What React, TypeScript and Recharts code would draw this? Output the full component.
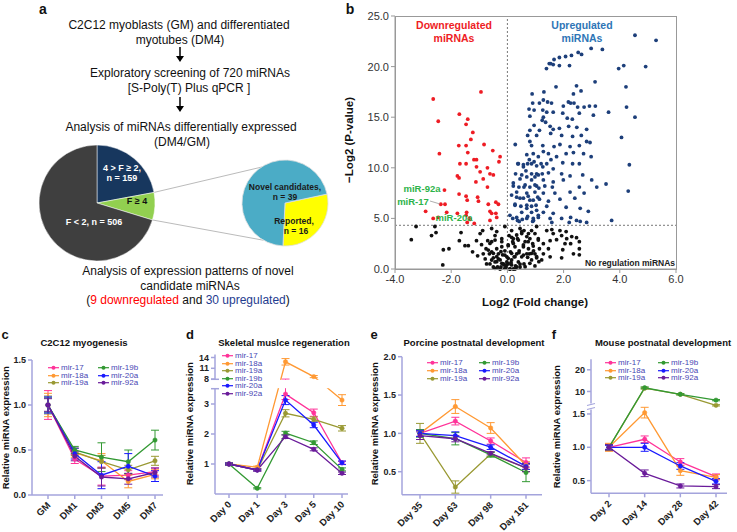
import React from "react";
import {
  PieChart, Pie, Cell, ScatterChart, Scatter, XAxis, YAxis, ReferenceLine,
  LineChart, Line, ErrorBar,
} from "recharts";

const FONT = '"Liberation Sans", Arial, Helvetica, sans-serif';
const AXIS = "#a4a4dc";

// ---- panel a: fold-change classes of the 720 screened miRNAs
const fClassNames = ["4 > F ≥ 2", "F ≥ 4", "F < 2"];
const fClassCounts = [159, 55, 506];
const fClassColors = ["#17375e", "#92d050", "#3f3f3f"];
const splitNames = ["Reported", "Novel candidates"];
const splitCounts = [16, 39];
const splitColors = ["#ffff00", "#4bacc6"];

// ---- panel b: volcano plot [log2 fold change, -log2 p]
const downPts: [number, number][] = [
  [-0.94, 17.5], [-2.64, 16.8], [-2.46, 14.6], [-1.71, 15.3], [-1.41, 14.8], [-1.47, 14.3], [-1.23, 13.5],
  [-1.30, 12.8], [-2.42, 11.4], [-1.73, 12.2], [-1.47, 12.2], [-1.41, 11.5], [-0.83, 12.3], [-0.52, 11.7],
  [-0.26, 11.1], [-0.30, 10.6], [-1.19, 10.8], [-1.10, 10.8], [-1.47, 10.4], [-1.69, 10.4], [-1.10, 10.1],
  [-0.71, 10.0], [-0.97, 9.6], [-0.62, 9.4], [-0.50, 9.3], [-1.78, 9.2], [-1.72, 9.0], [-1.12, 8.6],
  [-0.71, 8.1], [-0.86, 8.9], [-2.24, 7.8], [-1.72, 7.4], [-1.47, 7.2], [-1.06, 7.1], [-1.43, 6.8],
  [-1.03, 6.7], [-0.41, 6.6], [-0.32, 6.4], [-0.68, 6.4], [-2.37, 6.4], [-2.22, 6.4], [-2.91, 5.7],
  [-2.16, 5.6], [-1.78, 5.5], [-1.45, 5.6], [-1.47, 5.3], [-0.62, 5.7], [-0.56, 5.5], [-0.41, 5.5],
  [-2.64, 5.0], [-2.46, 5.1], [-1.35, 5.0], [-0.62, 4.8], [-1.43, 4.6], [-1.18, 4.5], [-0.38, 5.1], [-1.33, 4.9],
];
const upPts: [number, number][] = [
  [4.54, 23.1], [5.29, 22.6], [2.98, 21.8], [3.38, 21.7], [2.52, 21.4], [2.64, 21.2], [2.28, 21.1],
  [2.07, 21.0], [1.85, 20.9], [1.66, 20.7], [1.49, 20.3], [1.54, 20.3], [1.63, 20.2], [1.39, 19.8],
  [1.85, 20.1], [2.21, 20.1], [3.96, 19.8], [4.14, 20.1], [4.92, 20.0], [3.12, 18.5], [4.22, 18.0],
  [1.73, 18.0], [2.46, 18.1], [2.62, 17.6], [1.30, 17.5], [0.88, 17.3], [2.35, 17.3], [1.28, 16.7],
  [0.90, 16.4], [1.14, 16.4], [1.43, 16.5], [1.57, 16.4], [2.17, 16.5], [2.25, 16.4], [2.37, 16.4],
  [2.92, 16.1], [3.13, 16.1], [2.73, 16.0], [1.99, 16.1], [2.50, 16.0], [0.77, 15.8], [0.95, 15.7],
  [1.26, 15.7], [1.40, 15.5], [1.63, 15.5], [1.97, 15.4], [2.56, 15.4], [0.80, 15.1], [1.28, 15.0],
  [3.06, 15.2], [3.60, 15.5], [4.24, 16.0], [4.54, 15.0], [2.13, 14.9], [2.31, 14.8], [1.24, 14.7],
  [1.36, 14.5], [0.95, 14.2], [1.52, 14.1], [0.80, 13.7], [1.14, 13.7], [1.63, 13.8], [1.85, 13.9],
  [2.18, 14.1], [2.47, 14.0], [2.82, 13.8], [0.72, 13.2], [1.04, 13.2], [1.54, 13.4], [1.93, 13.2],
  [2.32, 13.1], [2.63, 13.2], [4.06, 13.0], [0.28, 12.3], [0.86, 12.2], [1.26, 12.2], [1.66, 12.1],
  [1.87, 12.3], [2.23, 12.1], [2.56, 12.2], [2.82, 12.6], [2.94, 12.5], [1.28, 11.6], [1.46, 11.4],
  [0.69, 11.3], [1.10, 11.1], [2.09, 11.4], [2.35, 11.5], [2.71, 11.4], [2.98, 11.1], [1.75, 11.1],
  [1.55, 10.8], [0.95, 10.6], [0.78, 10.8], [1.20, 10.4], [1.40, 10.4], [1.97, 10.5], [2.32, 10.4],
  [2.56, 10.4], [0.37, 10.4], [0.57, 10.1], [0.66, 9.7], [1.26, 10.1], [1.63, 9.9], [4.34, 10.3],
  [1.04, 9.4], [1.24, 9.4], [1.46, 9.5], [1.93, 9.4], [2.23, 9.2], [2.68, 9.3], [0.45, 8.9],
  [0.86, 8.8], [1.28, 8.8], [1.63, 8.6], [1.99, 8.8], [3.00, 8.8], [3.51, 8.4], [0.21, 8.2],
  [0.59, 8.1], [1.04, 8.2], [1.33, 8.2], [1.60, 8.1], [2.56, 8.1], [3.18, 8.1], [0.33, 7.6],
  [0.69, 7.5], [0.98, 7.6], [1.28, 7.5], [1.69, 7.5], [2.23, 7.6], [2.73, 7.5], [4.30, 7.7],
  [0.45, 7.0], [0.80, 6.8], [1.14, 6.9], [1.46, 6.7], [1.87, 6.9], [2.40, 7.0], [0.27, 6.4],
  [0.69, 6.3], [1.02, 6.3], [1.40, 6.2], [2.09, 6.1], [2.59, 6.0], [0.51, 5.6], [0.86, 5.6],
  [1.28, 5.6], [1.63, 5.5], [2.88, 5.7], [0.19, 5.0], [0.36, 4.8], [0.69, 5.0], [0.93, 4.8],
  [1.10, 5.1], [1.52, 5.0], [1.93, 5.0], [2.25, 5.1], [2.46, 4.8], [3.71, 4.8], [0.42, 4.7],
  [0.90, 4.7], [1.58, 4.6], [2.20, 4.6], [2.82, 4.6], [2.59, 4.7],
  [0.80, 12.6], [0.92, 11.4], [0.39, 10.4], [0.57, 10.3], [0.72, 10.4], [0.86, 10.4], [1.04, 10.2],
  [0.29, 9.4], [0.51, 9.3], [0.69, 9.1], [0.86, 9.4], [0.98, 9.1], [1.10, 9.3], [0.21, 8.5],
  [0.41, 8.1], [0.63, 8.3], [0.80, 8.1], [0.98, 8.3], [1.12, 8.0], [0.15, 7.3], [0.33, 7.1],
  [0.57, 7.0], [0.74, 7.2], [0.92, 6.8], [1.08, 7.1], [0.27, 6.3], [0.48, 6.2], [0.69, 6.0],
  [0.86, 6.2], [1.04, 5.8], [0.09, 5.3], [0.33, 5.1], [0.53, 4.9], [0.72, 5.2], [0.92, 5.0], [1.10, 5.3],
];
const nsPts: [number, number][] = [
  [-3.25, 4.2], [-2.58, 4.2], [-3.42, 2.9], [-2.70, 3.3], [-2.54, 3.6], [-2.28, 1.9], [-2.08, 2.0],
  [-2.30, 0.4], [-1.65, 3.6], [-1.71, 2.8], [-1.39, 2.3], [-1.51, 2.3], [-1.10, 2.8], [-1.06, 1.3],
  [-1.24, 1.7], [-0.88, 3.8], [-0.56, 4.0], [-0.38, 3.7], [-0.09, 4.2], [-0.92, 2.4], [-0.70, 2.8],
  [-0.56, 2.7], [-0.38, 2.0], [-0.76, 2.0], [-0.64, 1.5], [-0.79, 1.0], [-0.50, 1.1], [-0.44, 0.7],
  [-0.26, 0.9], [-0.32, 1.5], [-0.17, 1.4], [-0.12, 0.4], [-0.05, 0.2], [0.03, 0.5], [0.09, 0.0],
  [-0.23, 0.2], [-0.35, 0.2], [0.15, 0.9], [0.24, 1.2], [0.33, 1.5], [0.42, 1.8], [0.27, 2.2],
  [0.19, 2.7], [0.36, 3.0], [0.51, 3.5], [0.45, 4.0], [0.59, 3.8], [0.75, 3.5], [0.86, 3.8],
  [0.98, 3.5], [0.80, 3.0], [0.63, 2.7], [0.90, 2.5], [1.10, 3.0], [1.28, 2.5], [1.14, 2.0],
  [0.93, 1.8], [0.69, 1.5], [0.51, 1.2], [0.39, 0.7], [0.59, 0.5], [0.86, 0.9], [1.04, 1.1],
  [1.28, 1.5], [1.46, 2.0], [1.52, 2.8], [1.63, 3.5], [1.75, 2.9], [1.40, 3.8], [1.04, 4.2],
  [1.58, 3.9], [1.87, 3.8], [2.09, 3.7], [2.29, 3.2], [2.46, 3.1], [2.56, 2.7], [2.25, 2.5],
  [2.56, 2.0], [1.97, 1.9], [2.35, 1.5], [2.56, 1.4], [1.93, 1.1], [1.52, 1.2], [-0.62, 0.5],
  [-0.50, 0.2], [-0.14, 0.5], [-0.02, 0.7], [0.15, 0.4], [0.21, 0.0], [-0.74, 0.5], [-0.86, 1.5],
  [-0.20, 2.2], [-0.09, 1.8], [0.03, 2.3], [0.11, 1.7], [-0.02, 1.2], [0.21, 3.0], [0.06, 3.3],
  [0.15, 3.8], [-0.20, 3.0], [-0.44, 3.3], [0.57, 2.2], [0.75, 2.0], [0.78, 1.5], [0.98, 1.5],
  [1.22, 0.9], [0.45, 0.2], [0.33, 0.2], [-0.32, 1.0], [-0.56, 1.7], [-0.97, 3.5], [1.93, 3.3],
  [2.11, 3.0], [2.05, 2.5],
  [-0.68, 1.87], [-0.50, 1.55], [-0.38, 1.22], [-0.23, 1.71], [-0.09, 1.38], [0.03, 1.05], [0.15, 1.55],
  [0.27, 1.22], [0.41, 1.61], [0.57, 1.38], [0.72, 1.15], [0.86, 1.55], [1.04, 1.22], [-0.56, 0.89],
  [-0.38, 0.72], [-0.20, 0.56], [-0.03, 0.40], [0.13, 0.63], [0.29, 0.30], [0.45, 0.49], [0.63, 0.23],
  [0.80, 0.56], [0.98, 0.30], [1.12, 0.72], [-0.44, 0.07], [-0.26, 0.0], [-0.09, 0.07], [0.09, 0.0],
  [0.27, 0.0], [-0.62, 2.53], [-0.44, 2.86], [-0.20, 2.70], [0.03, 2.37], [0.21, 2.53], [0.39, 2.86],
  [0.57, 2.37], [0.74, 2.70], [0.92, 2.27], [1.10, 2.86], [0.15, 3.13], [0.33, 3.36], [0.51, 3.69], [0.69, 3.20],
];

// ---- panels c-f: relative expression, one row per miRNA
const mirNames = ["mir-17", "mir-18a", "mir-19a", "mir-19b", "mir-20a", "mir-92a"];
const mirColors = ["#ff3399", "#ff9933", "#999933", "#339933", "#1a1aff", "#6a1b9a"];

const cDays = ["GM", "DM1", "DM3", "DM5", "DM7"];
const cMean = [
  [1.0, 0.40, 0.21, 0.22, 0.26],
  [1.0, 0.47, 0.38, 0.15, 0.23],
  [1.0, 0.48, 0.37, 0.28, 0.38],
  [1.0, 0.50, 0.42, 0.37, 0.61],
  [1.0, 0.46, 0.22, 0.32, 0.21],
  [1.0, 0.43, 0.20, 0.18, 0.25],
];
const cErr = [
  [0.16, 0.05, 0.10, 0.05, 0.04],
  [0.13, 0.05, 0.08, 0.07, 0.05],
  [0.10, 0.04, 0.07, 0.05, 0.05],
  [0.08, 0.04, 0.16, 0.13, 0.11],
  [0.09, 0.06, 0.15, 0.14, 0.06],
  [0.07, 0.05, 0.10, 0.06, 0.05],
];

const dDays = ["Day 0", "Day 1", "Day 3", "Day 5", "Day 10"];
const dMean = [
  [1.0, 0.80, 3.33, 2.71, 1.04],
  [1.0, 0.89, 12.8, 8.7, 3.13],
  [1.0, 0.80, 2.69, 2.49, 2.19],
  [1.0, 0.19, 2.03, 1.71, 0.82],
  [1.0, 0.80, 3.13, 2.30, 1.04],
  [1.0, 0.80, 1.91, 1.49, 0.69],
];
const dErr = [
  [0.04, 0.04, 0.18, 0.12, 0.05],
  [0.03, 0.04, 0.9, 0.3, 0.18],
  [0.03, 0.03, 0.12, 0.08, 0.09],
  [0.03, 0.02, 0.06, 0.06, 0.05],
  [0.03, 0.03, 0.15, 0.09, 0.06],
  [0.03, 0.03, 0.06, 0.05, 0.04],
];
const dTickVals = [1, 2, 3, 8, 11, 14];

const eDays = ["Day 35", "Day 63", "Day 98", "Day 161"];
const eMean = [
  [1.0, 1.16, 0.90, 0.62],
  [1.0, 1.35, 1.07, 0.58],
  [1.0, 0.30, 0.73, 0.55],
  [1.0, 0.93, 0.72, 0.49],
  [1.0, 0.97, 0.82, 0.57],
  [0.97, 0.93, 0.74, 0.55],
];
const eErr = [
  [0.04, 0.05, 0.04, 0.06],
  [0.04, 0.09, 0.07, 0.05],
  [0.13, 0.08, 0.03, 0.05],
  [0.05, 0.08, 0.03, 0.12],
  [0.04, 0.05, 0.03, 0.04],
  [0.05, 0.04, 0.02, 0.05],
];

const fDays = ["Day 2", "Day 14", "Day 28", "Day 42"];
const fMean = [
  [1.0, 1.12, 0.78, 0.56],
  [1.0, 1.52, 0.65, 0.55],
  [1.0, 11.5, 8.7, 3.6],
  [1.0, 11.7, 8.7, 6.0],
  [1.0, 1.0, 0.72, 0.49],
  [1.0, 0.61, 0.42, 0.41],
];
const fErr = [
  [0.05, 0.05, 0.05, 0.04],
  [0.06, 0.08, 0.07, 0.04],
  [0.04, 0.4, 0.3, 0.3],
  [0.04, 0.4, 0.3, 0.3],
  [0.03, 0.06, 0.05, 0.04],
  [0.04, 0.05, 0.03, 0.03],
];
const fTickVals = [0.5, 1.0, 1.5, 10, 20];

// broken-axis transforms
const dT = (v: number) => (v <= 3.5 ? v : 3.83 + Math.max(0, v - 8) * 0.12);
const fT = (v: number) => (v <= 1.6 ? v : 1.61 + Math.max(0, v - 3) * 0.0325);
const idT = (v: number) => v;

function buildRows(days: string[], means: number[][], errs: number[][], tf: (v: number) => number) {
  return days.map((day, i) => {
    const row: any = { day };
    means.forEach((s, k) => {
      const v = s[i];
      const e = errs[k][i];
      const tv = tf(v);
      row["s" + k] = tv;
      row["e" + k] = [tv - tf(v - e), tf(v + e) - tv];
    });
    return row;
  });
}

const Txt = ({ x, y, size = 12, weight = "normal", color = "#111", rot = false, children }: any) => (
  <div
    style={{
      position: "absolute", left: x - 150, top: y - size * 0.6, width: 300, textAlign: "center",
      fontSize: size, lineHeight: `${size * 1.2}px`, fontWeight: weight, color, whiteSpace: "nowrap",
      transform: rot ? "rotate(-90deg)" : undefined,
    }}
  >
    {children}
  </div>
);

const RotTick = (props: any) => {
  const { x, y, payload } = props;
  return (
    <g transform={`translate(${x + 3},${y + 5})`}>
      <text textAnchor="end" transform="rotate(-45)" fontSize={9.5} fontWeight="bold" fill="#222" fontFamily={FONT}>
        {payload.value}
      </text>
    </g>
  );
};

function ExprChart(p: any) {
  const axisStyle = { stroke: AXIS, strokeWidth: 1.5 };
  return (
    <div style={{ position: "absolute", left: p.left, top: p.top }}>
      <LineChart width={p.width} height={202} data={p.rows} margin={p.margin} style={{ overflow: "visible" }}>
        <XAxis dataKey="day" padding={p.pad} interval={0} height={35} tickSize={4}
          tick={(t: any) => <RotTick {...t} />} axisLine={axisStyle} tickLine={axisStyle} />
        <YAxis type="number" domain={p.domain} ticks={p.ticks} tickFormatter={p.fmt} width={22}
          allowDataOverflow interval={0} tickSize={4} axisLine={axisStyle} tickLine={axisStyle}
          tick={{ fontSize: 9, fontWeight: "bold", fill: "#222", fontFamily: FONT }} />
        {mirNames.map((n, k) => (
          <Line key={n} dataKey={"s" + k} stroke={mirColors[k]} strokeWidth={1.3}
            dot={{ r: 2.2, fill: mirColors[k], stroke: mirColors[k], strokeWidth: 0.5 }}
            activeDot={false} isAnimationActive={false}>
            <ErrorBar dataKey={"e" + k} width={4} stroke={mirColors[k]} strokeWidth={1} direction="y" />
          </Line>
        ))}
      </LineChart>
    </div>
  );
}

function MiniLegend({ cols, ys }: { cols: number[]; ys: number[] }) {
  return (
    <>
      {mirNames.map((n, k) => {
        const mx = cols[Math.floor(k / ys.length)];
        const y = ys[k % ys.length];
        return (
          <div key={n} style={{ position: "absolute", left: mx, top: y - 3.7, height: 7.4, whiteSpace: "nowrap" }}>
            <svg width={11} height={8} style={{ position: "absolute", left: 0, top: 0 }}>
              <line x1={0} x2={11} y1={3.7} y2={3.7} stroke={mirColors[k]} strokeWidth={1.2} />
              <circle cx={5.5} cy={3.7} r={2} fill={mirColors[k]} />
            </svg>
            <span style={{ position: "absolute", left: 13, top: 0, fontSize: 8, lineHeight: "7.4px", color: "#4646b4" }}>{n}</span>
          </div>
        );
      })}
    </>
  );
}

const dot = (color: string) => (p: any) => <circle cx={p.cx} cy={p.cy} r={1.9} fill={color} />;

export default function App() {
  const bigData = fClassNames.map((name, i) => ({ name, value: fClassCounts[i] }));
  const smallData = splitNames.map((name, i) => ({ name, value: splitCounts[i] }));
  const total = fClassCounts.reduce((a, b) => a + b, 0);
  const BX = 97, BY = 203, BR = 58, SX = 285, SY = 203, SR = 43;
  const a1 = ((90 - (fClassCounts[0] / total) * 360) * Math.PI) / 180;
  const a2 = ((90 - ((fClassCounts[0] + fClassCounts[1]) / total) * 360) * Math.PI) / 180;
  const q1 = (83 * Math.PI) / 180, q2 = (-120 * Math.PI) / 180;

  const cRows = buildRows(cDays, cMean, cErr, idT);
  const dRows = buildRows(dDays, dMean, dErr, dT);
  const eRows = buildRows(eDays, eMean, eErr, idT);
  const fRows = buildRows(fDays, fMean, fErr, fT);
  const dTickT = dTickVals.map(dT);
  const fTickT = fTickVals.map(fT);
  const lookup = (ts: number[], vs: number[], fmt: (v: number) => string) => (v: number) => {
    const i = ts.findIndex((t) => Math.abs(t - v) < 1e-6);
    return i >= 0 ? fmt(vs[i]) : "";
  };

  return (
    <div style={{ position: "absolute", left: 0, top: 0, width: 737, height: 532, background: "#fff", overflow: "hidden", fontFamily: FONT, color: "#111" }}>
      {/* panel a */}
      <Txt x={43} y={9} size={14} weight="bold">a</Txt>
      <Txt x={179} y={25}>C2C12 myoblasts (GM) and differentiated</Txt>
      <Txt x={180} y={40}>myotubes (DM4)</Txt>
      <Txt x={190} y={73}>Exploratory screening of 720 miRNAs</Txt>
      <Txt x={189} y={88}>[S-Poly(T) Plus qPCR ]</Txt>
      <Txt x={181} y={127}>Analysis of miRNAs differentially expressed</Txt>
      <Txt x={182} y={142}>(DM4/GM)</Txt>
      <Txt x={188} y={271}>Analysis of expression patterns of novel</Txt>
      <Txt x={190} y={286}>candidate miRNAs</Txt>
      <Txt x={188} y={300}>
        (<span style={{ color: "#ff0000" }}>9 downregulated</span> and <span style={{ color: "#1f3c8f" }}>30 upregulated</span>)
      </Txt>
      <svg width={737} height={532} style={{ position: "absolute", left: 0, top: 0 }}>
        {[[47, 62], [97, 112]].map(([y1, y2]) => (
          <g key={y1}>
            <line x1={180} x2={180} y1={y1} y2={y2 - 5} stroke="#000" strokeWidth={1.5} />
            <polygon points={`${176},${y2 - 6} ${184},${y2 - 6} ${180},${y2}`} fill="#000" />
          </g>
        ))}
        <line x1={BX + BR * Math.cos(a1)} y1={BY - BR * Math.sin(a1)} x2={SX + SR * Math.cos(q1)} y2={SY - SR * Math.sin(q1)} stroke="#bbb" strokeWidth={1} />
        <line x1={BX + BR * Math.cos(a2)} y1={BY - BR * Math.sin(a2)} x2={SX + SR * Math.cos(q2)} y2={SY - SR * Math.sin(q2)} stroke="#bbb" strokeWidth={1} />
      </svg>
      <div style={{ position: "absolute", left: 0, top: 140 }}>
        <PieChart width={340} height={130} margin={{ top: 0, right: 0, bottom: 0, left: 0 }}>
          <Pie data={bigData} dataKey="value" cx={BX} cy={BY - 140} outerRadius={BR} startAngle={90} endAngle={-270}
            stroke="#fff" strokeWidth={0.5} isAnimationActive={false}>
            {bigData.map((d, i) => <Cell key={d.name} fill={fClassColors[i]} />)}
          </Pie>
          <Pie data={smallData} dataKey="value" cx={SX} cy={SY - 140} outerRadius={SR} startAngle={12} endAngle={-348}
            stroke="#e0e0e0" strokeWidth={0.8} isAnimationActive={false}>
            {smallData.map((d, i) => <Cell key={d.name} fill={splitColors[i]} />)}
          </Pie>
        </PieChart>
      </div>
      <Txt x={122} y={168} size={9} weight="bold" color="#fff">{fClassNames[0]},</Txt>
      <Txt x={122} y={178} size={9} weight="bold" color="#fff">n = {fClassCounts[0]}</Txt>
      <Txt x={137} y={201} size={9} weight="bold" color="#111">{fClassNames[1]}</Txt>
      <Txt x={94} y={222} size={9} weight="bold" color="#fff">{fClassNames[2]}, n = {fClassCounts[2]}</Txt>
      <Txt x={285} y={187} size={8.5} weight="bold" color="#1a1a1a">{splitNames[1]},</Txt>
      <Txt x={285} y={197} size={8.5} weight="bold" color="#1a1a1a">n = {splitCounts[1]}</Txt>
      <Txt x={294} y={221} size={8.5} weight="bold" color="#1a1a1a">{splitNames[0]},</Txt>
      <Txt x={296} y={231} size={8.5} weight="bold" color="#1a1a1a">n = {splitCounts[0]}</Txt>

      {/* panel b */}
      <Txt x={350} y={9} size={14} weight="bold">b</Txt>
      <div style={{ position: "absolute", left: 340, top: 0 }}>
        <ScatterChart width={345} height={320} margin={{ top: 16, right: 9, bottom: 21, left: 10 }}>
          <XAxis type="number" dataKey="x" domain={[-4, 6]} ticks={[-4, -2, 0, 2, 4, 6]} tickFormatter={(v: number) => v.toFixed(1)}
            height={30} tickSize={4} axisLine={{ stroke: "#999" }} tickLine={{ stroke: "#999" }}
            tick={{ fontSize: 11, fill: "#333", fontFamily: FONT }} />
          <YAxis type="number" dataKey="y" domain={[0, 25]} ticks={[0, 5, 10, 15, 20, 25]} tickFormatter={(v: number) => v.toFixed(1)}
            width={45} tickSize={4} axisLine={{ stroke: "#999" }} tickLine={{ stroke: "#999" }}
            tick={{ fontSize: 11, fill: "#333", fontFamily: FONT }} />
          <ReferenceLine x={0} stroke="#777" strokeDasharray="2 2" />
          <ReferenceLine y={4.32} stroke="#777" strokeDasharray="2 2" />
          <Scatter data={nsPts.map(([x, y]) => ({ x, y }))} shape={dot("#111")} isAnimationActive={false} />
          <Scatter data={upPts.map(([x, y]) => ({ x, y }))} shape={dot("#1d3f7a")} isAnimationActive={false} />
          <Scatter data={downPts.map(([x, y]) => ({ x, y }))} shape={dot("#ee1c24")} isAnimationActive={false} />
        </ScatterChart>
      </div>
      <div style={{ position: "absolute", left: 395, top: 16, width: 282, height: 254, border: "1px solid #999", boxSizing: "border-box", pointerEvents: "none" }} />
      <Txt x={454} y={25} size={10.5} weight="bold" color="#ee1c24">Downregulated</Txt>
      <Txt x={454} y={38} size={10.5} weight="bold" color="#ee1c24">miRNAs</Txt>
      <Txt x={582} y={25} size={10.5} weight="bold" color="#2e75b6">Upregulated</Txt>
      <Txt x={582} y={38} size={10.5} weight="bold" color="#2e75b6">miRNAs</Txt>
      <Txt x={630} y={263} size={8.5} weight="bold" color="#222">No regulation miRNAs</Txt>
      <Txt x={422} y={189} size={9.5} weight="bold" color="#2db34a">miR-92a</Txt>
      <Txt x={413} y={202} size={9.5} weight="bold" color="#2db34a">miR-17</Txt>
      <Txt x={454} y={218} size={9.5} weight="bold" color="#2db34a">miR-20a</Txt>
      <svg width={737} height={532} style={{ position: "absolute", left: 0, top: 0, pointerEvents: "none" }}>
        <line x1={430} y1={201} x2={440} y2={204} stroke="#999" strokeWidth={0.8} />
      </svg>
      <Txt x={350} y={140} size={11.5} weight="bold" rot>−Log2 (P-value)</Txt>
      <Txt x={535} y={303} size={11.5} weight="bold">Log2 (Fold change)</Txt>

      {/* panel c */}
      <Txt x={5} y={335} size={13} weight="bold">c</Txt>
      <Txt x={84} y={343} size={9.5} weight="bold">C2C12 myogenesis</Txt>
      <Txt x={6} y={428} size={9.5} weight="bold" rot>Relative miRNA expression</Txt>
      <ExprChart left={0} top={330} width={185} rows={cRows} margin={{ top: 30, right: 22, bottom: 2, left: 10 }}
        pad={{ left: 16, right: 8 }} domain={[0, 1.5]} ticks={[0, 0.5, 1, 1.5]} fmt={(v: number) => v.toFixed(1)} />
      <MiniLegend cols={[48, 98]} ys={[368, 375.5, 383]} />

      {/* panel d */}
      <Txt x={190} y={335} size={13} weight="bold">d</Txt>
      <Txt x={284} y={343} size={9.5} weight="bold">Skeletal muslce regeneration</Txt>
      <Txt x={190} y={424} size={9.5} weight="bold" rot>Relative miRNA expression</Txt>
      <ExprChart left={185} top={330} width={185} rows={dRows} margin={{ top: 24.5, right: 22, bottom: 3, left: 8 }}
        pad={{ left: 14, right: 6 }} domain={[0, 4.65]} ticks={dTickT} fmt={lookup(dTickT, dTickVals, (v) => String(v))} />
      <svg width={737} height={532} style={{ position: "absolute", left: 0, top: 0, pointerEvents: "none" }}>
        <rect x={212} y={379.8} width={140} height={8.4} fill="#fff" />
        <line x1={211} x2={219} y1={379.3} y2={379.3} stroke={AXIS} strokeWidth={1.5} />
        <line x1={211} x2={219} y1={388.7} y2={388.7} stroke={AXIS} strokeWidth={1.5} />
      </svg>
      <MiniLegend cols={[222]} ys={[356, 363.5, 371, 378.5, 386, 393.5]} />

      {/* panel e */}
      <Txt x={374} y={335} size={13} weight="bold">e</Txt>
      <Txt x={474} y={343} size={9.5} weight="bold">Porcine postnatal development</Txt>
      <Txt x={375} y={424} size={9.5} weight="bold" rot>Relative miRNA expression</Txt>
      <ExprChart left={370} top={330} width={180} rows={eRows} margin={{ top: 26.7, right: 8, bottom: 2.3, left: 10 }}
        pad={{ left: 18, right: 16 }} domain={[0.2, 2.0]} ticks={[0.5, 1, 1.5, 2]} fmt={(v: number) => v.toFixed(1)} />
      <MiniLegend cols={[427, 479]} ys={[363, 371, 379]} />

      {/* panel f */}
      <Txt x={554} y={335} size={13} weight="bold">f</Txt>
      <Txt x={663} y={343} size={9.5} weight="bold">Mouse postnatal development</Txt>
      <Txt x={557} y={427} size={9.5} weight="bold" rot>Relative miRNA expression</Txt>
      <ExprChart left={550} top={330} width={187} rows={fRows} margin={{ top: 29.3, right: 10, bottom: 3.7, left: 19 }}
        pad={{ left: 18, right: 11 }} domain={[0.31, 2.32]} ticks={fTickT}
        fmt={lookup(fTickT, fTickVals, (v) => (v < 5 ? v.toFixed(1) : String(v)))} />
      <svg width={737} height={532} style={{ position: "absolute", left: 0, top: 0, pointerEvents: "none" }}>
        <rect x={586} y={403.5} width={10} height={6} fill="#fff" />
        <line x1={587} x2={595} y1={405.5} y2={403.5} stroke={AXIS} strokeWidth={1.2} />
        <line x1={587} x2={595} y1={409.5} y2={407.5} stroke={AXIS} strokeWidth={1.2} />
      </svg>
      <MiniLegend cols={[605, 658]} ys={[363, 370.5, 378]} />
    </div>
  );
}
